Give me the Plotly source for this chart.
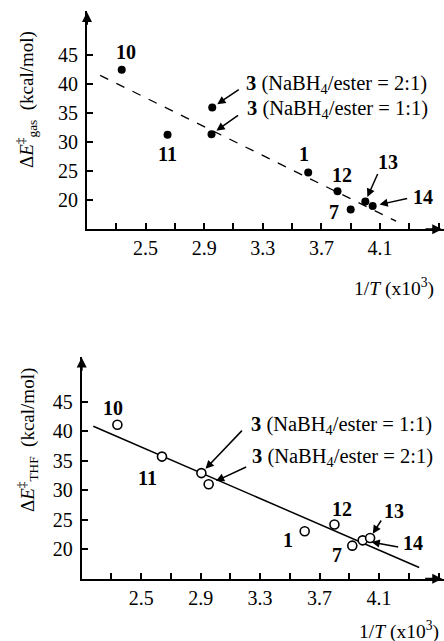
import plotly.graph_objects as go

# ---------------- data ----------------
gas_labels = ["10", "11", "3a", "3b", "1", "12", "7", "13", "14"]
gas_x = [2.337, 2.65, 2.955, 2.95, 3.61, 3.81, 3.90, 4.00, 4.05]
gas_y = [42.5, 31.3, 36.0, 31.4, 24.8, 21.55, 18.4, 19.8, 19.0]
gas_fit_x = [2.19, 4.21]
gas_fit_y = [41.55, 16.4]

thf_labels = ["10", "11", "3a", "3b", "1", "12", "7", "14", "13"]
thf_x = [2.34, 2.64, 2.905, 2.954, 3.60, 3.80, 3.92, 3.99, 4.04]
thf_y = [41.1, 35.7, 32.9, 31.0, 23.05, 24.2, 20.6, 21.5, 21.9]
thf_fit_x = [2.178, 4.37]
thf_fit_y = [40.85, 16.9]

x_tickvals = [2.5, 2.9, 3.3, 3.7, 4.1]
x_ticktext = ["2.5", "2.9", "3.3", "3.7", "4.1"]
y_tickvals = [20, 25, 30, 35, 40, 45]

W, H = 444, 641
FONT = "Liberation Serif"

def px(x):
    return x / W

def py(y):
    return 1 - y / H

fig = go.Figure()

fig.add_trace(go.Scatter(x=gas_fit_x, y=gas_fit_y, mode="lines",
                         line=dict(color="black", width=1.3, dash="dash"),
                         xaxis="x", yaxis="y", showlegend=False, hoverinfo="skip"))
fig.add_trace(go.Scatter(x=gas_x, y=gas_y, mode="markers",
                         marker=dict(color="black", size=8),
                         xaxis="x", yaxis="y", showlegend=False))
fig.add_trace(go.Scatter(x=thf_fit_x, y=thf_fit_y, mode="lines",
                         line=dict(color="black", width=1.5),
                         xaxis="x2", yaxis="y2", showlegend=False, hoverinfo="skip"))
fig.add_trace(go.Scatter(x=thf_x, y=thf_y, mode="markers",
                         marker=dict(color="white", size=9,
                                     line=dict(color="black", width=1.6)),
                         xaxis="x2", yaxis="y2", showlegend=False))

XR = [2.1, 4.537]
YR = [15, 52.6]
TICKSIZE = 20

def xaxis_cfg(anchor, domain):
    return dict(range=XR, domain=domain, anchor=anchor, showgrid=False, zeroline=False,
                showline=True, linecolor="black", linewidth=2,
                ticks="inside", ticklen=6, tickwidth=1.5, tickcolor="black",
                tickvals=x_tickvals, ticktext=x_ticktext,
                minor=dict(tick0=2.3, dtick=0.2, ticks="inside", ticklen=6,
                           tickwidth=1.5, tickcolor="black", showgrid=False),
                tickfont=dict(family=FONT, size=TICKSIZE, color="black"))

def yaxis_cfg(anchor, domain):
    return dict(range=YR, domain=domain, anchor=anchor, showgrid=False, zeroline=False,
                showline=True, linecolor="black", linewidth=2,
                ticks="inside", ticklen=6, tickwidth=1.5, tickcolor="black",
                tickvals=y_tickvals, ticklabelstandoff=3,
                tickfont=dict(family=FONT, size=TICKSIZE, color="black"))

layout = dict(
    width=W, height=H, margin=dict(l=0, r=0, t=0, b=0),
    paper_bgcolor="white", plot_bgcolor="white",
    font=dict(family=FONT, color="black"),
    xaxis=xaxis_cfg("y", [px(87), 1.0]),
    yaxis=yaxis_cfg("x", [py(229.3), py(11.3)]),
    xaxis2=xaxis_cfg("y2", [px(81.7), 1.0]),
    yaxis2=yaxis_cfg("x2", [py(578.7), py(356.9)]),
)
fig.update_layout(**layout)

ann = []

# axis arrowheads
for xr, yr in (("x", "y"), ("x2", "y2")):
    ann.append(dict(x=4.525, y=15, ax=4.4, ay=15, xref=xr, yref=yr, axref=xr, ayref=yr,
                    showarrow=True, arrowhead=2, arrowsize=1, arrowwidth=2,
                    arrowcolor="black", text=""))
    ann.append(dict(x=2.1, y=52.5, ax=2.1, ay=50, xref=xr, yref=yr, axref=xr, ayref=yr,
                    showarrow=True, arrowhead=2, arrowsize=1, arrowwidth=2,
                    arrowcolor="black", text=""))

LABSIZE = 20

def lab(xr, yr, x, y, text, dx, dy, xanchor="center", size=LABSIZE):
    ann.append(dict(x=x, y=y, xref=xr, yref=yr, text=text, showarrow=False,
                    xshift=dx, yshift=dy, xanchor=xanchor, yanchor="middle",
                    font=dict(family=FONT, size=size, color="black")))

def arr(xr, yr, x, y, ax, ay, standoff):
    ann.append(dict(x=x, y=y, xref=xr, yref=yr, ax=ax, ay=ay, text="",
                    showarrow=True, arrowhead=2, arrowsize=1.1, arrowwidth=1.5,
                    arrowcolor="black", standoff=standoff))

G = dict(zip(gas_labels, zip(gas_x, gas_y)))
T = dict(zip(thf_labels, zip(thf_x, thf_y)))

# top panel labels
lab("x", "y", *G["10"], "<b>10</b>", 4, 18)
lab("x", "y", *G["11"], "<b>11</b>", 0, -19)
lab("x", "y", *G["1"], "<b>1</b>", -4, 18)
lab("x", "y", *G["12"], "<b>12</b>", 4, 16)
lab("x", "y", *G["7"], "<b>7</b>", -17, -2)
lab("x", "y", *G["13"], "<b>13</b>", 23, 39)
lab("x", "y", *G["14"], "<b>14</b>", 50, 9)
lab("x", "y", *G["3a"], "<b>3</b> (NaBH<sub>4</sub>/ester = 2:1)", 32, 23, "left", 20.5)
lab("x", "y", *G["3b"], "<b>3</b> (NaBH<sub>4</sub>/ester = 1:1)", 33, 25, "left", 20.5)
arr("x", "y", *G["3a"], 28, -19, 6)
arr("x", "y", *G["3b"], 28, -20, 6)
arr("x", "y", *G["13"], 13, -29, 5)
arr("x", "y", *G["14"], 36, -8, 7)

# bottom panel labels
lab("x2", "y2", *T["10"], "<b>10</b>", -4, 17)
lab("x2", "y2", *T["11"], "<b>11</b>", -14, -21)
lab("x2", "y2", *T["1"], "<b>1</b>", -17, -9)
lab("x2", "y2", *T["12"], "<b>12</b>", 8, 15)
lab("x2", "y2", *T["7"], "<b>7</b>", -15, -9)
lab("x2", "y2", *T["13"], "<b>13</b>", 24, 27)
lab("x2", "y2", *T["14"], "<b>14</b>", 50, -3)
lab("x2", "y2", *T["3a"], "<b>3</b> (NaBH<sub>4</sub>/ester = 1:1)", 48, 48, "left", 20.5)
lab("x2", "y2", *T["3b"], "<b>3</b> (NaBH<sub>4</sub>/ester = 2:1)", 41, 27, "left", 20.5)
arr("x2", "y2", *T["3a"], 42, -44, 6)
arr("x2", "y2", *T["3b"], 39, -18, 8)
arr("x2", "y2", *T["13"], 12, -19, 5)
arr("x2", "y2", *T["14"], 37, 7, 9)

# axis titles
for yc in (287, 630):
    ann.append(dict(x=px(436 if yc == 287 else 441), y=py(yc), xref="paper", yref="paper",
                    text="1/<i>T</i> (x10<sup>3</sup>)", showarrow=False,
                    xanchor="right", yanchor="middle",
                    font=dict(family=FONT, size=19.5, color="black")))
ann.append(dict(x=px(27), y=py(100), xref="paper", yref="paper", textangle=-90,
                text="Δ<i>E</i><sup>‡</sup><sub>gas</sub>  (kcal/mol)", showarrow=False,
                xanchor="center", yanchor="middle",
                font=dict(family=FONT, size=19, color="black")))
ann.append(dict(x=px(27), y=py(440), xref="paper", yref="paper", textangle=-90,
                text="Δ<i>E</i><sup>‡</sup><sub>THF</sub>  (kcal/mol)", showarrow=False,
                xanchor="center", yanchor="middle",
                font=dict(family=FONT, size=19, color="black")))

fig.update_layout(annotations=ann)
fig.write_html("out.html", post_script="document.body.style.margin='0';",
               config={"displayModeBar": False})
